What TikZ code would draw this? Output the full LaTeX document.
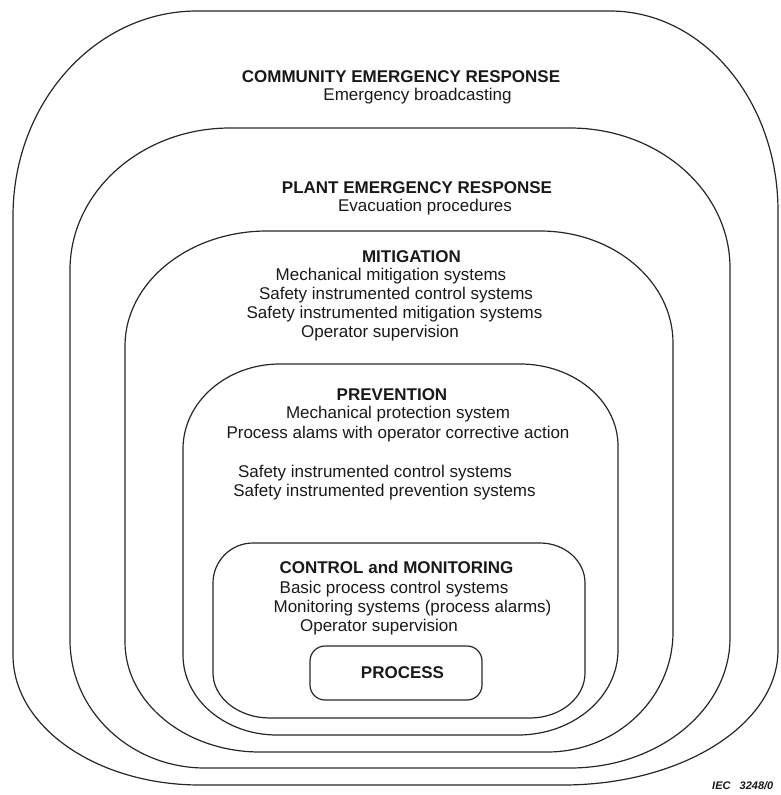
\documentclass[tikz,border=0pt]{standalone}
\usepackage{fontspec}
\setmainfont{Liberation Sans}
\tikzset{
  layer/.style={draw=black!85, line width=1.2pt},
  head/.style={font=\fontsize{17}{19}\selectfont\bfseries, text=black!90, anchor=base, inner sep=0pt},
  item/.style={font=\fontsize{17}{19}\selectfont, text=black!90, anchor=base, inner sep=0pt},
  procbox/.style={draw=black!85, line width=1.2pt, rounded corners=15pt, minimum width=172pt, minimum height=54pt, inner sep=0pt},
  iec/.style={font=\fontsize{11}{13}\selectfont\bfseries\itshape, text=black!90, anchor=base west, inner sep=0pt},
}
\def\kk{0.5523}
\def\splitpair#1/#2\relax{\def\rx{#1}\def\ry{#2}}
% #1 L, #2 T, #3 R, #4 B, #5 TL rx/ry, #6 TR, #7 BR, #8 BL
\newcommand\layerpath[8]{%
  \splitpair#5\relax\let\rAx\rx\let\rAy\ry
  \splitpair#6\relax\let\rBx\rx\let\rBy\ry
  \splitpair#7\relax\let\rCx\rx\let\rCy\ry
  \splitpair#8\relax\let\rDx\rx\let\rDy\ry
  \draw[layer] ({#1+\rAx},#2) -- ({#3-\rBx},#2)
    .. controls ({#3-\rBx+\kk*\rBx},#2) and (#3,{#2+\rBy-\kk*\rBy}) .. (#3,{#2+\rBy})
    -- (#3,{#4-\rCy})
    .. controls (#3,{#4-\rCy+\kk*\rCy}) and ({#3-\rCx+\kk*\rCx},#4) .. ({#3-\rCx},#4)
    -- ({#1+\rDx},#4)
    .. controls ({#1+\rDx-\kk*\rDx},#4) and (#1,{#4-\rDy+\kk*\rDy}) .. (#1,{#4-\rDy})
    -- (#1,{#2+\rAy})
    .. controls (#1,{#2+\rAy-\kk*\rAy}) and ({#1+\rAx-\kk*\rAx},#2) .. ({#1+\rAx},#2)
    -- cycle;
}
\begin{document}
\begin{tikzpicture}[x=1pt,y=-1pt]
\useasboundingbox (0,0) rectangle (780,795);
% layers
\layerpath{13}{11}{778}{785}{184/205}{168/200}{215/135}{187/130}
\layerpath{70}{128}{730}{768}{160/142}{160/140}{160/130}{135/128}
\layerpath{125}{231}{673}{752}{142/115}{133/112}{126/120}{135/110}
\layerpath{183}{364}{618}{735}{97/85}{98/82}{100/85}{94/80}
\layerpath{213}{543}{585}{718}{40/40}{45/40}{55/45}{57/45}
\node[procbox] (procbox) at (396,673) {};
% texts
\node[head] (cer) at (401,82) {COMMUNITY EMERGENCY RESPONSE};
\node[item] (ceb) at (417.5,100) {Emergency broadcasting};
\node[head] (per) at (417,193) {PLANT EMERGENCY RESPONSE};
\node[item] (pev) at (425,211) {Evacuation procedures};
\node[head] (mit) at (411.5,262) {MITIGATION};
\node[item] (mit1) at (391,280) {Mechanical mitigation systems};
\node[item] (mit2) at (396,299) {Safety instrumented control systems};
\node[item] (mit3) at (394.5,318) {Safety instrumented mitigation systems};
\node[item] (mit4) at (380,337) {Operator supervision};
\node[head] (pre) at (392,400) {PREVENTION};
\node[item] (pre1) at (398,418) {Mechanical protection system};
\node[item] (pre2) at (398,438) {Process alams with operator corrective action};
\node[item] (pre3) at (375,477) {Safety instrumented control systems};
\node[item] (pre4) at (384.5,496) {Safety instrumented prevention systems};
\node[head] (cam) at (396.5,573) {CONTROL and MONITORING};
\node[item] (cam1) at (394,593) {Basic process control systems};
\node[item] (cam2) at (412.5,612) {Monitoring systems (process alarms)};
\node[item] (cam3) at (379,631) {Operator supervision};
\node[head] (proc) at (402.5,678) {PROCESS};
\node[iec] (iec) at (712,789) {IEC\ \ \ 3248/0};
\end{tikzpicture}
\end{document}
